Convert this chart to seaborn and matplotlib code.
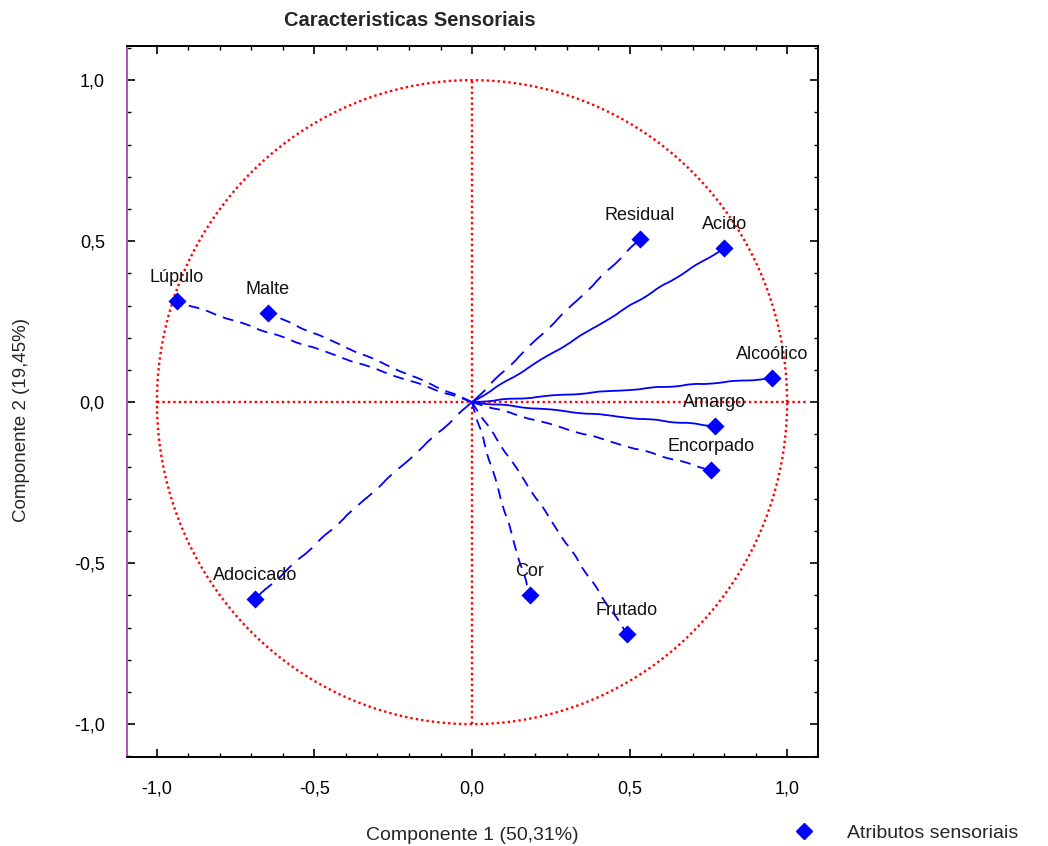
import numpy as np
import pandas as pd
import matplotlib
matplotlib.use("Agg")
import matplotlib.pyplot as plt
from matplotlib.ticker import MultipleLocator, FuncFormatter
from matplotlib.lines import Line2D
import seaborn as sns

# PCA loadings of the sensory attributes
atributos = ["Residual", "Acido", "Alcoólico", "Amargo", "Encorpado",
             "Frutado", "Cor", "Adocicado", "Malte", "Lúpulo"]
comp1 = [0.533, 0.800, 0.952, 0.771, 0.759, 0.492, 0.184, -0.689, -0.648, -0.937]
comp2 = [0.506, 0.478, 0.074, -0.074, -0.211, -0.720, -0.600, -0.612, 0.276, 0.314]
# line style of each loading vector
estilos = ["longdash", "solid", "solid", "solid", "dash",
           "dash", "dash", "longdash", "dash", "dash"]

dash_map = {"solid": "-", "dash": (0, (6, 4)), "longdash": (0, (10, 5))}

df = pd.DataFrame({"atributo": atributos, "c1": comp1, "c2": comp2, "estilo": estilos})

sns.set_style("white")
plt.rcParams["font.family"] = ["Liberation Sans", "DejaVu Sans"]

fig = plt.figure(figsize=(10.48, 8.46), dpi=100)
ax = fig.add_axes([127 / 1048, 1 - 757 / 846, 691 / 1048, 711 / 846])

# unit correlation circle and axes through the origin
red_dots = dict(color="red", lw=1.7, ls=(0, (1, 1.3)), zorder=1)
t = np.linspace(0, 2 * np.pi, 400)
ax.plot(np.cos(t), np.sin(t), **red_dots)
ax.plot([-1.0, 1.06], [0, 0], **red_dots)
ax.plot([0, 0], [-1.0, 1.0], **red_dots)

# loading vectors from the origin, drawn with a light hand-drawn wobble
for _, r in df.iterrows():
    ln, = ax.plot([0, r["c1"]], [0, r["c2"]], color="#0000ff", lw=1.3,
                  ls=dash_map[r["estilo"]], zorder=2)
    ln.set_sketch_params(scale=0.45, length=70, randomness=5)

sns.scatterplot(data=df, x="c1", y="c2", marker="D", s=85, color="#0000ff",
                edgecolor="#0000ff", linewidth=0, ax=ax, zorder=3, legend=False)

for _, r in df.iterrows():
    ax.annotate(r["atributo"], (r["c1"], r["c2"]), xytext=(0, 17),
                textcoords="offset points", ha="center", va="center",
                fontsize=13, color="#111111")

ax.set_xlim(-1.095, 1.098)
ax.set_ylim(-1.102, 1.106)

fmt = FuncFormatter(lambda v, p: f"{v:.1f}".replace(".", ",").replace("-0,0", "0,0"))
ax.xaxis.set_major_locator(MultipleLocator(0.5))
ax.yaxis.set_major_locator(MultipleLocator(0.5))
ax.xaxis.set_minor_locator(MultipleLocator(0.1))
ax.yaxis.set_minor_locator(MultipleLocator(0.1))
ax.xaxis.set_major_formatter(fmt)
ax.yaxis.set_major_formatter(fmt)
ax.tick_params(which="both", direction="in", top=True, right=True,
               bottom=True, left=True, colors="black")
ax.tick_params(which="major", length=6, width=1.2, labelsize=13)
ax.tick_params(which="minor", length=3, width=1)
ax.tick_params(axis="x", which="major", pad=17)
ax.tick_params(axis="y", which="major", pad=16)

for s in ["top", "right", "bottom"]:
    ax.spines[s].set_color("black")
    ax.spines[s].set_linewidth(1.4)
ax.spines["left"].set_color("#b050c0")
ax.spines["left"].set_linewidth(1.4)
ax.set_xlabel("")
ax.set_ylabel("")

fig.text(410 / 1048, 1 - 20 / 846, "Caracteristicas Sensoriais", ha="center",
         va="center", fontsize=14.5, fontweight="bold")
fig.text(472 / 1048, 1 - 835 / 846, "Componente 1 (50,31%)", ha="center",
         va="center", fontsize=14)
fig.text(22 / 1048, 1 - 420 / 846, "Componente 2 (19,45%)", ha="center",
         va="center", fontsize=13.5, rotation=90)

handle = Line2D([], [], marker="D", color="#0000ff", ls="none", markersize=8)
fig.legend([handle], ["Atributos sensoriais"], loc="center left",
           bbox_to_anchor=(783 / 1048, 1 - 833 / 846), frameon=False,
           fontsize=14, handletextpad=1.6, handlelength=1.2, borderpad=0)

fig.savefig("out.png", dpi=100)
